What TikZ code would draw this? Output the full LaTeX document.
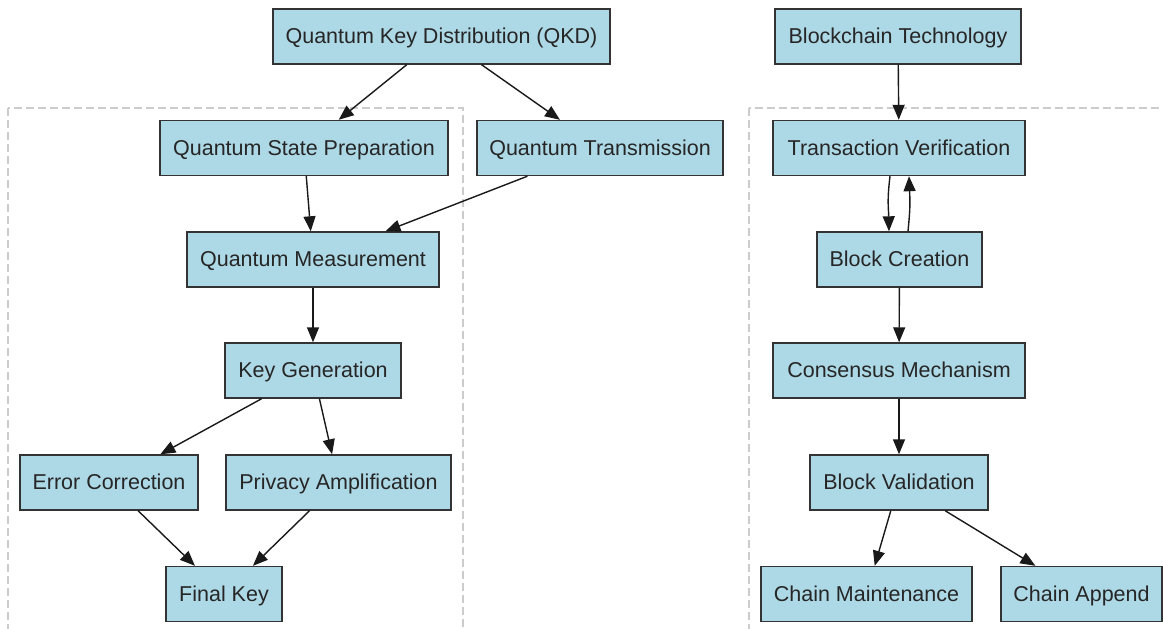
\documentclass[tikz,border=0pt]{standalone}
\usepackage{fontspec}
\setmainfont{Liberation Sans}
\usetikzlibrary{arrows.meta,calc}
\definecolor{nodefill}{HTML}{ADD8E6}
\definecolor{nodeline}{HTML}{333333}
\definecolor{clusterline}{HTML}{CCCCCC}
\begin{document}
\begin{tikzpicture}[x=1pt,y=-1pt,
  box/.style={rectangle,draw=nodeline,fill=nodefill,line width=1.4pt,
    minimum height=55pt,minimum width=#1,inner sep=0pt,
    text height=17pt,text depth=3pt,
    font=\fontsize{21.5}{26}\selectfont,text=black!85},
  conn/.style={line width=1.4pt,draw=black!90,-{Triangle[length=15pt,width=12pt]}},
  cluster/.style={draw=clusterline,line width=1.3pt,dash pattern=on 8pt off 4pt}]
\useasboundingbox (0,0) rectangle (1163,629);
\begin{scope}
\clip (0,0) rectangle (1163,629);
\draw[cluster] (8,108) rectangle (463,650);
\draw[cluster] (749,108) rectangle (1180,650);
\end{scope}
% left
\node[box=337pt] (qkd) at (441.5,36.5) {Quantum Key Distribution (QKD)};
\node[box=288pt] (qsp) at (304,148) {Quantum State Preparation};
\node[box=246pt] (qt) at (600,148) {Quantum Transmission};
\node[box=252pt] (qm) at (313,259.5) {Quantum Measurement};
\node[box=176pt] (kg) at (313,370.5) {Key Generation};
\node[box=178pt] (ec) at (109,482.5) {Error Correction};
\node[box=225pt] (pa) at (338.5,482.5) {Privacy Amplification};
\node[box=116pt] (fk) at (224,594) {Final Key};
% right
\node[box=246pt] (bt) at (898,36.5) {Blockchain Technology};
\node[box=252pt] (tv) at (899,148) {Transaction Verification};
\node[box=165pt] (bc) at (899.5,259.5) {Block Creation};
\node[box=252pt] (cm) at (899,370.5) {Consensus Mechanism};
\node[box=178pt] (bv) at (899,482.5) {Block Validation};
\node[box=211pt] (cmt) at (866.5,594) {Chain Maintenance};
\node[box=161pt] (ca) at (1081.5,594) {Chain Append};
% edges
\draw[conn] (qkd) -- (qsp);
\draw[conn] (qkd) -- (qt);
\draw[conn] (qsp) -- (qm);
\draw[conn] (qt) -- (qm);
\draw[conn] (qm) -- (kg);
\draw[conn] (kg) -- (ec);
\draw[conn] (kg) -- (pa);
\draw[conn] (ec) -- (fk);
\draw[conn] (pa) -- (fk);
\draw[conn] (bt) -- (tv);
\draw[conn] ($(tv.south)+(-9,0)$) .. controls ($(tv.south)+(-12,25)$) and ($(bc.north)+(-11,-25)$) .. ($(bc.north)+(-10.5,0)$);
\draw[conn] ($(bc.north)+(8.5,0)$) .. controls ($(bc.north)+(11,-25)$) and ($(tv.south)+(11,25)$) .. ($(tv.south)+(10,0)$);
\draw[conn] (bc) -- (cm);
\draw[conn] (cm) -- (bv);
\draw[conn] (bv) -- (cmt);
\draw[conn] (bv) -- (ca);
\end{tikzpicture}
\end{document}
